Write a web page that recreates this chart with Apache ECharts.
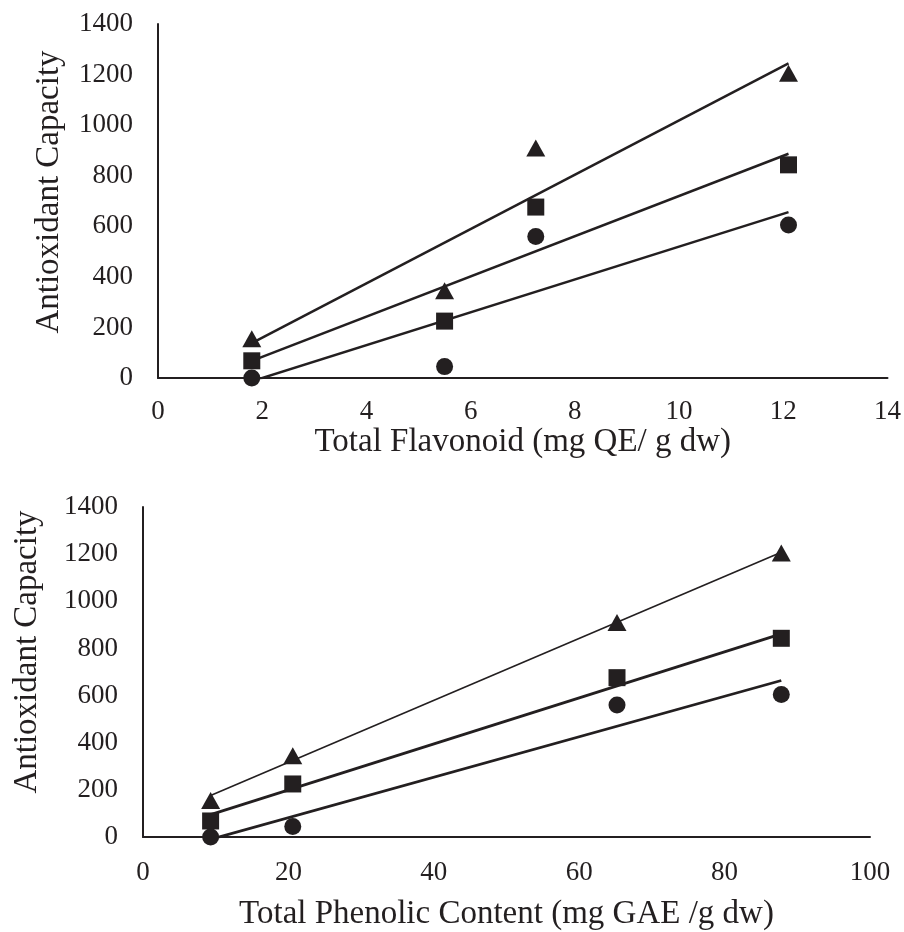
<!DOCTYPE html>
<html>
<head>
<meta charset="utf-8">
<script src="https://cdn.jsdelivr.net/npm/echarts@6/dist/echarts.min.js"></script>
<style>
  html, body { margin: 0; padding: 0; background: #fff; }
  #chart { width: 904px; height: 932px; }
</style>
</head>
<body>
<div id="chart"></div>
<script>
// x positions of the four samples
const flavonoidX = [1.8, 5.5, 7.25, 12.1];
const phenolicX = [9.3, 20.6, 65.2, 87.8];

// antioxidant capacity (same samples in both panels)
const triangleVals = [155, 345, 910, 1205];
const squareVals = [68, 225, 676, 843];
const circleVals = [0, 45, 560, 605];

// trend line end points
const flavTrendX = [1.8, 12.1];
const flavTrendTri = [138, 1244];
const flavTrendSq = [68, 887];
const flavTrendCirc = [-13, 656];
const phenTrendX = [9.3, 87.8];
const phenTrendTri = [176, 1208];
const phenTrendSq = [95, 862];
const phenTrendCirc = [-10, 664];

const ink = '#231f20';
const font = 'Liberation Serif';

function pairs(xs, ys) {
  return xs.map((x, i) => [x, ys[i]]);
}

function scatter(xi, xs, ys, symbol, size) {
  return {
    type: 'scatter', xAxisIndex: xi, yAxisIndex: xi,
    symbol: symbol, symbolSize: size, clip: false,
    itemStyle: { color: ink, opacity: 1 },
    data: pairs(xs, ys), z: 5
  };
}

function trend(xi, xs, ys, w) {
  return {
    type: 'line', xAxisIndex: xi, yAxisIndex: xi,
    symbol: 'none', clip: true,
    lineStyle: { color: ink, width: w },
    data: pairs(xs, ys), z: 3
  };
}

const axisBase = {
  axisLine: { lineStyle: { color: ink, width: 2 } },
  axisTick: { show: false },
  splitLine: { show: false },
  axisLabel: { color: ink, fontFamily: font, fontSize: 27, formatter: v => String(v) },
  nameTextStyle: { color: ink, fontFamily: font, fontSize: 33 }
};

const chart = echarts.init(document.getElementById('chart'));
chart.setOption({
  animation: false,
  grid: [
    { left: 158, top: 24, width: 730, height: 354 },
    { left: 143, top: 507, width: 727, height: 330 }
  ],
  xAxis: [
    Object.assign({}, axisBase, {
      type: 'value', gridIndex: 0, min: 0, max: 14, interval: 2,
      name: 'Total Flavonoid (mg QE/ g dw)', nameLocation: 'middle', nameGap: 48,
      axisLabel: Object.assign({}, axisBase.axisLabel, { margin: 20 })
    }),
    Object.assign({}, axisBase, {
      type: 'value', gridIndex: 1, min: 0, max: 100, interval: 20,
      name: 'Total Phenolic Content (mg GAE /g dw)', nameLocation: 'middle', nameGap: 61,
      axisLabel: Object.assign({}, axisBase.axisLabel, { margin: 22 })
    })
  ],
  yAxis: [
    Object.assign({}, axisBase, {
      type: 'value', gridIndex: 0, min: 0, max: 1400, interval: 200,
      name: 'Antioxidant Capacity', nameLocation: 'middle', nameGap: 92,
      axisLabel: Object.assign({}, axisBase.axisLabel, { margin: 25 }),
      nameTextStyle: Object.assign({}, axisBase.nameTextStyle, { padding: [0, 0, 0, 18] })
    }),
    Object.assign({}, axisBase, {
      type: 'value', gridIndex: 1, min: 0, max: 1400, interval: 200,
      name: 'Antioxidant Capacity', nameLocation: 'middle', nameGap: 99,
      axisLabel: Object.assign({}, axisBase.axisLabel, { margin: 25 }),
      nameTextStyle: Object.assign({}, axisBase.nameTextStyle, { padding: [0, 0, 0, 40] })
    })
  ],
  series: [
    trend(0, flavTrendX, flavTrendTri, 2.5),
    trend(0, flavTrendX, flavTrendSq, 2.5),
    trend(0, flavTrendX, flavTrendCirc, 2.5),
    scatter(0, flavonoidX, triangleVals, 'triangle', [19, 17]),
    scatter(0, flavonoidX, squareVals, 'rect', 17),
    scatter(0, flavonoidX, circleVals, 'circle', 17),

    trend(1, phenTrendX, phenTrendTri, 1.6),
    trend(1, phenTrendX, phenTrendSq, 2.8),
    trend(1, phenTrendX, phenTrendCirc, 2.8),
    scatter(1, phenolicX, triangleVals, 'triangle', [19, 17]),
    scatter(1, phenolicX, squareVals, 'rect', 17),
    scatter(1, phenolicX, circleVals, 'circle', 17)
  ]
});
</script>
</body>
</html>
